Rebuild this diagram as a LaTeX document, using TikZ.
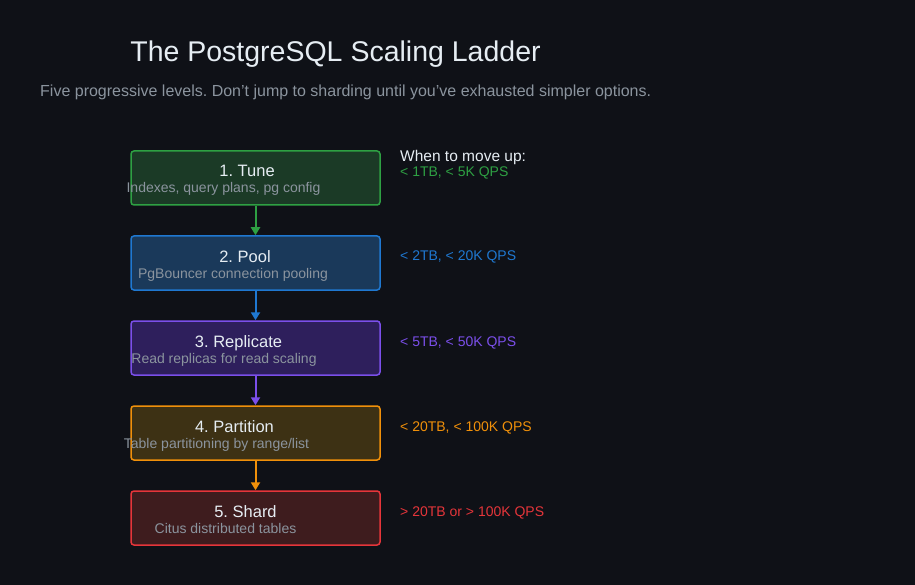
\documentclass[tikz,border=0pt]{standalone}
\usepackage{fontspec}
\setmainfont{Liberation Sans}
\usepackage{tikz}
\usetikzlibrary{arrows.meta}
\frenchspacing

\definecolor{bg}{HTML}{0F1117}
\definecolor{txt}{HTML}{E6EDF3}
\definecolor{mute}{HTML}{8B949E}
\definecolor{gLine}{HTML}{2EA043}
\definecolor{gFill}{HTML}{1B3A26}
\definecolor{bLine}{HTML}{1F78D1}
\definecolor{bFill}{HTML}{1A395A}
\definecolor{pLine}{HTML}{7B4FEA}
\definecolor{pFill}{HTML}{2E1F5C}
\definecolor{oLine}{HTML}{F0900A}
\definecolor{oFill}{HTML}{3D3114}
\definecolor{rLine}{HTML}{E5353A}
\definecolor{rFill}{HTML}{3E1C1E}

\tikzset{
  level/.style={draw, line width=1.5pt, rounded corners=3pt, minimum width=249pt, minimum height=54pt, inner sep=0pt},
  head/.style={anchor=base, inner sep=0pt, text=txt, font=\fontsize{16.5}{18}\selectfont},
  sub/.style={anchor=base, inner sep=0pt, text=mute, font=\fontsize{14}{16}\selectfont},
  when/.style={anchor=base west, inner sep=0pt, font=\fontsize{14}{16}\selectfont},
  up/.style={-{Triangle[width=9pt,length=8pt]}, line width=2pt}
}

\begin{document}
\begin{tikzpicture}[x=1pt,y=-1pt]
                \fill[bg] (0,0) rectangle (915,585);
                \useasboundingbox (0,0) rectangle (915,585);
                % 标题
                \node[anchor=base, inner sep=0pt, text=txt, font=\fontsize{28.5}{32}\selectfont] (title) at (335.5,62) {The PostgreSQL Scaling Ladder};
                \node[anchor=base west, inner sep=0pt, text=mute, font=\fontsize{16}{18}\selectfont] (lead) at (40,97) {Five progressive levels. Don't jump to sharding until you've exhausted simpler options.};
                % 绘制方框
                \node[level, draw=gLine, fill=gFill] (tune) at (255.5,178) {};
                \node[level, draw=bLine, fill=bFill] (pool) at (255.5,263) {};
                \node[level, draw=pLine, fill=pFill] (repl) at (255.5,348) {};
                \node[level, draw=oLine, fill=oFill] (part) at (255.5,433) {};
                \node[level, draw=rLine, fill=rFill] (shard) at (255.5,518) {};
                % 方框文字
                \node[head] (tuneT) at (247,177) {1. Tune};
                \node[sub] (tuneS) at (223.5,193) {Indexes, query plans, pg config};
                \node[head] (poolT) at (245,262) {2. Pool};
                \node[sub] (poolS) at (233,278) {PgBouncer connection pooling};
                \node[head] (replT) at (238.5,347) {3. Replicate};
                \node[sub] (replS) at (224,363) {Read replicas for read scaling};
                \node[head] (partT) at (234.5,432) {4. Partition};
                \node[sub] (partS) at (216.5,448) {Table partitioning by range/list};
                \node[head] (shardT) at (245.5,517) {5. Shard};
                \node[sub] (shardS) at (225.5,533) {Citus distributed tables};
                % 绘制箭头
                \draw[up, gLine] (tune) -- (pool);
                \draw[up, bLine] (pool) -- (repl);
                \draw[up, pLine] (repl) -- (part);
                \draw[up, oLine] (part) -- (shard);
                % 右侧条件
                \node[anchor=base west, inner sep=0pt, text=txt, font=\fontsize{15.5}{18}\selectfont] (move) at (400,162) {When to move up:};
                \node[when, text=gLine] (tuneW) at (400,176.5) {< 1TB, < 5K QPS};
                \node[when, text=bLine] (poolW) at (400,261) {< 2TB, < 20K QPS};
                \node[when, text=pLine] (replW) at (400,346) {< 5TB, < 50K QPS};
                \node[when, text=oLine] (partW) at (400,431) {< 20TB, < 100K QPS};
                \node[when, text=rLine] (shardW) at (400,516) {> 20TB or > 100K QPS};
            \end{tikzpicture}
\end{document}
